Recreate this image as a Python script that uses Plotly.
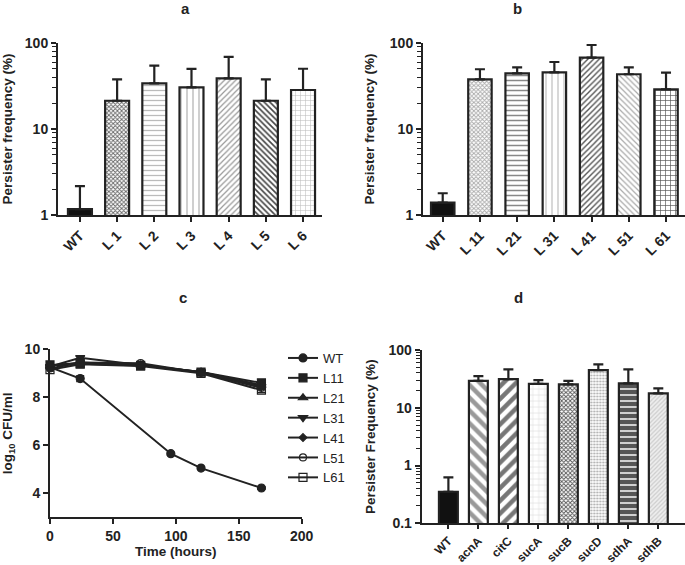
import plotly.graph_objects as go

W, H = 685, 565

# ---------------- data ----------------
a_cats = ["WT", "L 1", "L 2", "L 3", "L 4", "L 5", "L 6"]
a_vals = [1.17, 21.3, 34.0, 30.5, 38.8, 21.3, 28.4]
a_err_top = [2.17, 37.8, 54.5, 49.9, 68.8, 37.8, 50.2]

b_cats = ["WT", "L 11", "L 21", "L 31", "L 41", "L 51", "L 61"]
b_vals = [1.39, 37.8, 44.4, 45.6, 67.5, 43.3, 28.9]
b_err_top = [1.79, 49.5, 52.2, 60.1, 94.8, 52.2, 45.2]

d_cats = ["WT", "acnA", "citC", "sucA", "sucB", "sucD", "sdhA", "sdhB"]
d_vals = [0.352, 29.3, 31.4, 26.0, 25.4, 44.9, 26.4, 17.7]
d_err_top = [0.625, 35.4, 46.1, 30.1, 29.3, 56.3, 46.1, 21.7]

c_series = {
    "WT":  ([0, 24, 96, 120, 168], [9.25, 8.78, 5.65, 5.05, 4.22], [0.05, 0.12, 0.05, 0.05, 0.05]),
    "L11": ([0, 24, 72, 120, 168], [9.35, 9.40, 9.33, 9.05, 8.60], [0.05, 0.05, 0.05, 0.05, 0.05]),
    "L21": ([0, 24, 72, 120, 168], [9.30, 9.45, 9.33, 9.03, 8.50], [0.05, 0.08, 0.05, 0.05, 0.08]),
    "L31": ([0, 24, 72, 120, 168], [9.28, 9.65, 9.35, 9.05, 8.45], [0.05, 0.08, 0.05, 0.05, 0.08]),
    "L41": ([0, 24, 72, 120, 168], [9.32, 9.42, 9.35, 9.05, 8.50], [0.05, 0.05, 0.05, 0.05, 0.05]),
    "L51": ([0, 24, 72, 120, 168], [9.20, 9.45, 9.42, 9.02, 8.40], [0.05, 0.05, 0.05, 0.05, 0.08]),
    "L61": ([0, 24, 72, 120, 168], [9.15, 9.38, 9.30, 9.00, 8.30], [0.05, 0.05, 0.05, 0.05, 0.10]),
}
c_symbols = ["circle", "square", "triangle-up", "triangle-down", "diamond", "circle-open", "square-open"]
c_sizes = [8, 8, 8, 8, 6, 7, 8]

# ---------------- styles ----------------
DARK = "#222222"
FONT = "Liberation Sans, Arial, sans-serif"

a_shapes = ["", "x", "-", "|", "/", "\\", "+"]
a_fg = ["#111111", "#666666", "#bbbbbb", "#c0c0c0", "#999999", "#444444", "#bbbbbb"]
a_bg = ["#111111", "#ffffff", "#ffffff", "#ffffff", "#ffffff", "#ffffff", "#ffffff"]
a_size = [6, 3, 5, 6, 4, 4, 5]
a_sol = [0.3, 0.5, 0.25, 0.25, 0.3, 0.4, 0.2]

b_shapes = ["", "x", "-", "|", "/", "\\", "+"]
b_fg = ["#111111", "#aaaaaa", "#888888", "#cccccc", "#555555", "#aaaaaa", "#555555"]
b_bg = ["#111111", "#ffffff", "#ffffff", "#ffffff", "#ffffff", "#ffffff", "#ffffff"]
b_size = [6, 3, 5, 6, 4, 4, 5]
b_sol = [0.3, 0.5, 0.3, 0.25, 0.35, 0.3, 0.25]

d_shapes = ["", "\\", "/", "+", "x", ".", "-", "/"]
d_fg = ["#111111", "#999999", "#777777", "#dddddd", "#555555", "#aaaaaa", "#dddddd", "#cccccc"]
d_bg = ["#111111", "#ffffff", "#ffffff", "#ffffff", "#ffffff", "#ffffff", "#555555", "#eeeeee"]
d_size = [6, 9, 9, 6, 3, 3, 6, 3]
d_sol = [0.3, 0.5, 0.5, 0.2, 0.5, 0.4, 0.3, 0.4]


def px_x(p):
    return p / W


def px_y(p):
    return (H - p) / H


fig = go.Figure()


def add_bars(cats, vals, tops, shapes, fg, bg, size, sol, xa, ya, width):
    for i, cat in enumerate(cats):
        pat = dict(shape=shapes[i], fgcolor=fg[i], bgcolor=bg[i], size=size[i],
                   solidity=sol[i], fillmode="replace")
        fig.add_trace(go.Bar(
            x=[cat], y=[vals[i]], xaxis=xa, yaxis=ya, width=width, showlegend=False,
            marker=dict(color=bg[i], line=dict(color=DARK, width=2.2), pattern=pat),
            error_y=dict(type="data", array=[tops[i] - vals[i]], arrayminus=[0],
                         symmetric=False, color=DARK, thickness=2.2, width=5),
        ))


add_bars(a_cats, a_vals, a_err_top, a_shapes, a_fg, a_bg, a_size, a_sol, "x", "y", 0.645)
add_bars(b_cats, b_vals, b_err_top, b_shapes, b_fg, b_bg, b_size, b_sol, "x2", "y2", 0.63)
add_bars(d_cats, d_vals, d_err_top, d_shapes, d_fg, d_bg, d_size, d_sol, "x4", "y4", 0.63)

for (name, (t, v, e)), sym, sz in zip(c_series.items(), c_symbols, c_sizes):
    fig.add_trace(go.Scatter(
        x=t, y=v, name=name, xaxis="x3", yaxis="y3", mode="lines+markers",
        line=dict(color=DARK, width=2),
        marker=dict(symbol=sym, size=sz, color=DARK, line=dict(color=DARK, width=1.2)),
        error_y=dict(type="data", array=e, color=DARK, thickness=1.5, width=4),
        cliponaxis=False,
    ))

tickfont = dict(family=FONT, size=14, color=DARK, weight="bold")
tickfont_d = dict(family=FONT, size=12, color=DARK, weight="bold")
titlefont = dict(family=FONT, size=13.5, color=DARK, weight="bold")

common_axis = dict(showline=True, linewidth=2, linecolor=DARK, ticks="outside",
                   tickwidth=2, tickcolor=DARK, ticklen=5, showgrid=False,
                   zeroline=False, tickfont=tickfont, mirror=False, automargin=False)

minor_ab = dict(ticks="outside", ticklen=4, tickwidth=1, tickcolor=DARK, showgrid=False,
                tickvals=[2, 3, 4, 5, 6, 7, 8, 9, 20, 30, 40, 50, 60, 70, 80, 90])
minor_d = dict(ticks="outside", ticklen=4, tickwidth=1, tickcolor=DARK, showgrid=False,
               tickvals=[0.2, 0.3, 0.4, 0.5, 0.6, 0.7, 0.8, 0.9, 2, 3, 4, 5, 6, 7, 8, 9,
                         20, 30, 40, 50, 60, 70, 80, 90])

fig.update_layout(
    width=W, height=H, margin=dict(l=0, r=0, t=0, b=0, autoexpand=False),
    paper_bgcolor="white", plot_bgcolor="white", barmode="overlay",
    font=dict(family=FONT, color=DARK),
    xaxis=dict(common_axis, domain=[px_x(58), px_x(322)], anchor="y",
               range=[-0.59, 6.51], tickangle=-45, type="category"),
    yaxis=dict(common_axis, domain=[px_y(215), px_y(43)], anchor="x", type="log",
               range=[0, 2], tickvals=[1, 10, 100], ticktext=["1", "10", "100"],
               minor=minor_ab,
               title=dict(text="Persister frequency (%)", font=titlefont, standoff=16)),
    xaxis2=dict(common_axis, domain=[px_x(423), 1.0], anchor="y2",
                range=[-0.53, 6.51], tickangle=-45, type="category"),
    yaxis2=dict(common_axis, domain=[px_y(215), px_y(43)], anchor="x2", type="log",
                range=[0, 2], tickvals=[1, 10, 100], ticktext=["1", "10", "100"],
                minor=minor_ab,
                title=dict(text="Persister frequency (%)", font=titlefont, standoff=12)),
    xaxis3=dict(common_axis, domain=[px_x(50), px_x(301.7)], anchor="y3",
                range=[0, 200], tickvals=[0, 50, 100, 150, 200],
                title=dict(text="Time (hours)", font=titlefont, standoff=0)),
    yaxis3=dict(common_axis, domain=[px_y(517.3), px_y(349.3)], anchor="x3",
                range=[3, 10], tickvals=[4, 6, 8, 10],
                title=dict(text="log<sub>10</sub> CFU/ml", font=titlefont, standoff=17)),
    xaxis4=dict(common_axis, domain=[px_x(421.7), 1.0], anchor="y4",
                range=[-0.89, 7.89], tickangle=-45, type="category", tickfont=tickfont_d,
                ticklen=4),
    yaxis4=dict(common_axis, domain=[px_y(523.3), px_y(350)], anchor="x4", type="log",
                range=[-1, 2], tickvals=[0.1, 1, 10, 100], ticktext=["0.1", "1", "10", "100"],
                minor=minor_d,
                title=dict(text="Persister Frequency (%)", font=titlefont, standoff=10)),
    legend=dict(x=px_x(283), y=px_y(343), xanchor="left", yanchor="top",
                font=dict(family=FONT, size=13, color=DARK), bgcolor="rgba(0,0,0,0)",
                itemwidth=30, tracegroupgap=0),
)

for txt, xp, yp in [("a", 185, 8), ("b", 517, 8), ("c", 183, 297), ("d", 518, 297)]:
    fig.add_annotation(text=txt, x=px_x(xp), y=px_y(yp), xref="paper", yref="paper",
                       showarrow=False, xanchor="center", yanchor="middle",
                       font=dict(family=FONT, size=15, color=DARK, weight="bold"))

# remove the default page margin so the figure starts at the window's top-left corner
fig.write_html("out.html", config={"displayModeBar": False},
               post_script="document.body.style.margin='0px';document.body.style.overflow='hidden';")
